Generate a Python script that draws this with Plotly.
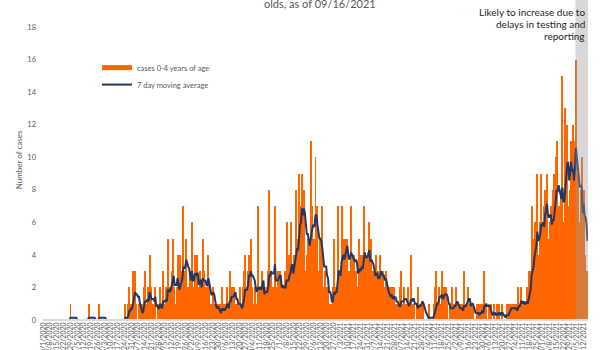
import pandas as pd
import plotly.graph_objects as go

start_date = "2020-03-01"

# Daily cases among 0-4 year olds (one list per month)
mar_2020 = [0, 0, 0, 0, 0, 0, 0, 0, 0, 0, 0, 0, 0, 0, 0, 0, 0, 0, 0, 0, 0, 0, 0, 0, 0, 0, 0, 0, 1, 0, 0]
apr_2020 = [0, 0, 0, 0, 0, 0, 0, 0, 0, 0, 0, 0, 0, 0, 0, 0, 1, 0, 0, 0, 0, 0, 0, 0, 0, 0, 0, 1, 0, 0]
may_2020 = [0, 0, 0, 0, 0, 0, 0, 0, 0, 0, 0, 0, 0, 0, 0, 0, 0, 0, 0, 0, 0, 0, 0, 0, 1, 0, 0, 1, 2, 0, 1]
jun_2020 = [1, 3, 2, 3, 1, 0, 0, 1, 0, 1, 1, 0, 2, 3, 1, 0, 2, 0, 4, 0, 2, 1, 0, 1, 2, 0, 0, 1, 1, 2]
jul_2020 = [0, 1, 3, 0, 1, 2, 1, 5, 1, 2, 1, 3, 5, 2, 1, 1, 2, 4, 1, 2, 4, 2, 3, 7, 3, 2, 5, 2, 1, 2, 3]
aug_2020 = [2, 6, 1, 2, 4, 1, 4, 2, 1, 3, 2, 1, 5, 3, 2, 1, 1, 2, 4, 2, 1, 0, 1, 2, 1, 0, 1, 0, 1, 0, 1]
sep_2020 = [0, 2, 0, 1, 0, 1, 2, 1, 0, 3, 1, 2, 1, 2, 2, 1, 0, 1, 0, 1, 2, 1, 0, 2, 3, 4, 1, 2, 3, 4]
oct_2020 = [2, 5, 2, 1, 1, 2, 1, 0, 7, 1, 2, 1, 1, 3, 2, 1, 2, 2, 1, 3, 8, 2, 3, 1, 2, 1, 7, 1, 2, 3, 2]
nov_2020 = [3, 1, 2, 2, 1, 3, 2, 6, 1, 2, 4, 2, 6, 3, 2, 4, 3, 8, 5, 5, 9, 7, 5, 9, 5, 8, 3, 3, 4, 5]
dec_2020 = [5, 4, 11, 7, 4, 5, 4, 10, 4, 7, 3, 2, 5, 3, 7, 1, 2, 3, 2, 1, 2, 1, 1, 1, 0, 2, 5, 1, 2, 1, 7]
jan_2021 = [3, 2, 3, 7, 4, 2, 5, 5, 4, 5, 3, 2, 3, 7, 4, 3, 4, 2, 3, 2, 2, 5, 4, 3, 4, 2, 7, 4, 3, 4, 3]
feb_2021 = [6, 3, 2, 5, 2, 3, 1, 3, 4, 2, 3, 2, 4, 3, 2, 3, 2, 1, 3, 1, 2, 0, 2, 1, 2, 1, 2, 1]
mar_2021 = [1, 0, 1, 1, 0, 2, 3, 1, 0, 2, 1, 0, 1, 2, 0, 1, 4, 0, 1, 1, 0, 0, 1, 2, 1, 1, 1, 1, 1, 0, 0]
apr_2021 = [0, 0, 0, 0, 1, 0, 0, 0, 0, 1, 2, 3, 1, 0, 2, 1, 1, 3, 1, 2, 1, 2, 1, 0, 0, 1, 0, 1, 2, 1]
may_2021 = [1, 0, 2, 1, 0, 1, 0, 1, 0, 1, 3, 0, 1, 1, 2, 1, 1, 0, 1, 1, 0, 0, 0, 1, 0, 1, 0, 1, 0, 1, 0]
jun_2021 = [3, 1, 1, 0, 0, 1, 0, 1, 0, 0, 1, 0, 0, 1, 0, 1, 0, 0, 1, 0, 0, 0, 0, 1, 0, 1, 1, 1, 1, 0]
jul_2021 = [1, 0, 1, 1, 0, 2, 1, 1, 2, 1, 0, 1, 1, 1, 2, 1, 3, 2, 3, 7, 3, 4, 5, 6, 4, 9, 3, 4, 6, 9, 6]
aug_2021 = [5, 7, 8, 6, 9, 4, 5, 6, 7, 4, 8, 9, 7, 10, 11, 6, 7, 5, 8, 5, 15, 5, 6, 13, 11, 12, 6, 7, 8, 11, 9]
sep_2021 = [12, 7, 11, 16, 4, 9, 4, 6, 8, 10, 5, 8, 4, 3, 3, 1]

months = [mar_2020, apr_2020, may_2020, jun_2020, jul_2020, aug_2020, sep_2020, oct_2020,
          nov_2020, dec_2020, jan_2021, feb_2021, mar_2021, apr_2021, may_2021, jun_2021,
          jul_2021, aug_2021, sep_2021]
cases = [v for m in months for v in m]

delay_start = "2021-09-03 12:00"   # start of the shaded "reporting delay" period

bar_name = "cases 0-4 years of age"
ma_name = "7 day moving average"
y_title = "Number of cases"
title_text = "olds, as of 09/16/2021"
note_lines = ["Likely to increase due to", "delays in testing and", "reporting"]

dates = pd.date_range(start_date, periods=len(cases), freq="D")
moving_avg = pd.Series(cases).rolling(7).mean()

ORANGE = "#FF6600"
NAVY = "#1F3864"
GREY_TXT = "#595959"

fig = go.Figure()
fig.add_trace(go.Bar(x=dates, y=cases, name=bar_name, showlegend=False,
                     marker=dict(color=ORANGE, line=dict(width=0))))
fig.add_trace(go.Scatter(x=[None], y=[None], mode="lines", name=bar_name,
                         legend="legend", line=dict(color=ORANGE, width=5)))
fig.add_trace(go.Scatter(x=dates, y=moving_avg, mode="lines", name=ma_name,
                         legend="legend2", line=dict(color=NAVY, width=2)))

legend_style = dict(xanchor="left", yanchor="top", font=dict(size=7.5, color=GREY_TXT),
                    bgcolor="rgba(0,0,0,0)")

note_y = [0.962, 0.926, 0.889]
annotations = [
    dict(text=title_text, xref="paper", yref="paper", x=0.508, y=0.99,
         xanchor="center", yanchor="middle", showarrow=False,
         font=dict(size=11, color=GREY_TXT)),
]
for line, yy in zip(note_lines, note_y):
    annotations.append(dict(text=line, xref="paper", yref="paper", x=0.998, y=yy,
                            xanchor="right", yanchor="middle", showarrow=False,
                            font=dict(size=10, color="#262626")))

half_day = pd.Timedelta(hours=12)
fig.update_layout(
    width=600, height=350,
    margin=dict(l=43, r=12, t=0, b=30),
    paper_bgcolor="white", plot_bgcolor="white",
    font=dict(family="Lato", color=GREY_TXT),
    bargap=0,
    showlegend=True,
    legend=dict(x=0.099, y=0.834, **legend_style),
    legend2=dict(x=0.099, y=0.781, **legend_style),
    xaxis=dict(type="date", range=[dates[0] - half_day, dates[-1] + half_day],
               tick0=start_date, dtick=7 * 86400000, tickformat="%-m/%-d/%Y",
               tickangle=-90, tickfont=dict(size=7, color=GREY_TXT),
               showline=False, showgrid=False, zeroline=False, ticks="",
               automargin=False),
    yaxis=dict(range=[0, 19.66], tick0=0, dtick=2, showgrid=False, zeroline=False,
               showline=False, ticks="", tickfont=dict(size=7.5, color=GREY_TXT),
               ticklabelstandoff=6, automargin=False,
               title=dict(text=y_title, font=dict(size=8, color=GREY_TXT), standoff=3)),
    shapes=[
        dict(type="rect", xref="x", yref="paper", x0=delay_start,
             x1=dates[-1] + half_day, y0=0, y1=1, layer="above",
             fillcolor="rgb(154,154,154)", opacity=0.39, line=dict(width=0)),
        # category axis baseline, drawn over the series like the original
        dict(type="line", xref="paper", yref="paper", x0=0, x1=1, y0=0, y1=0,
             layer="above", line=dict(color="#D9D9D9", width=2)),
    ],
    annotations=annotations,
)

fig.write_html("out.html")
